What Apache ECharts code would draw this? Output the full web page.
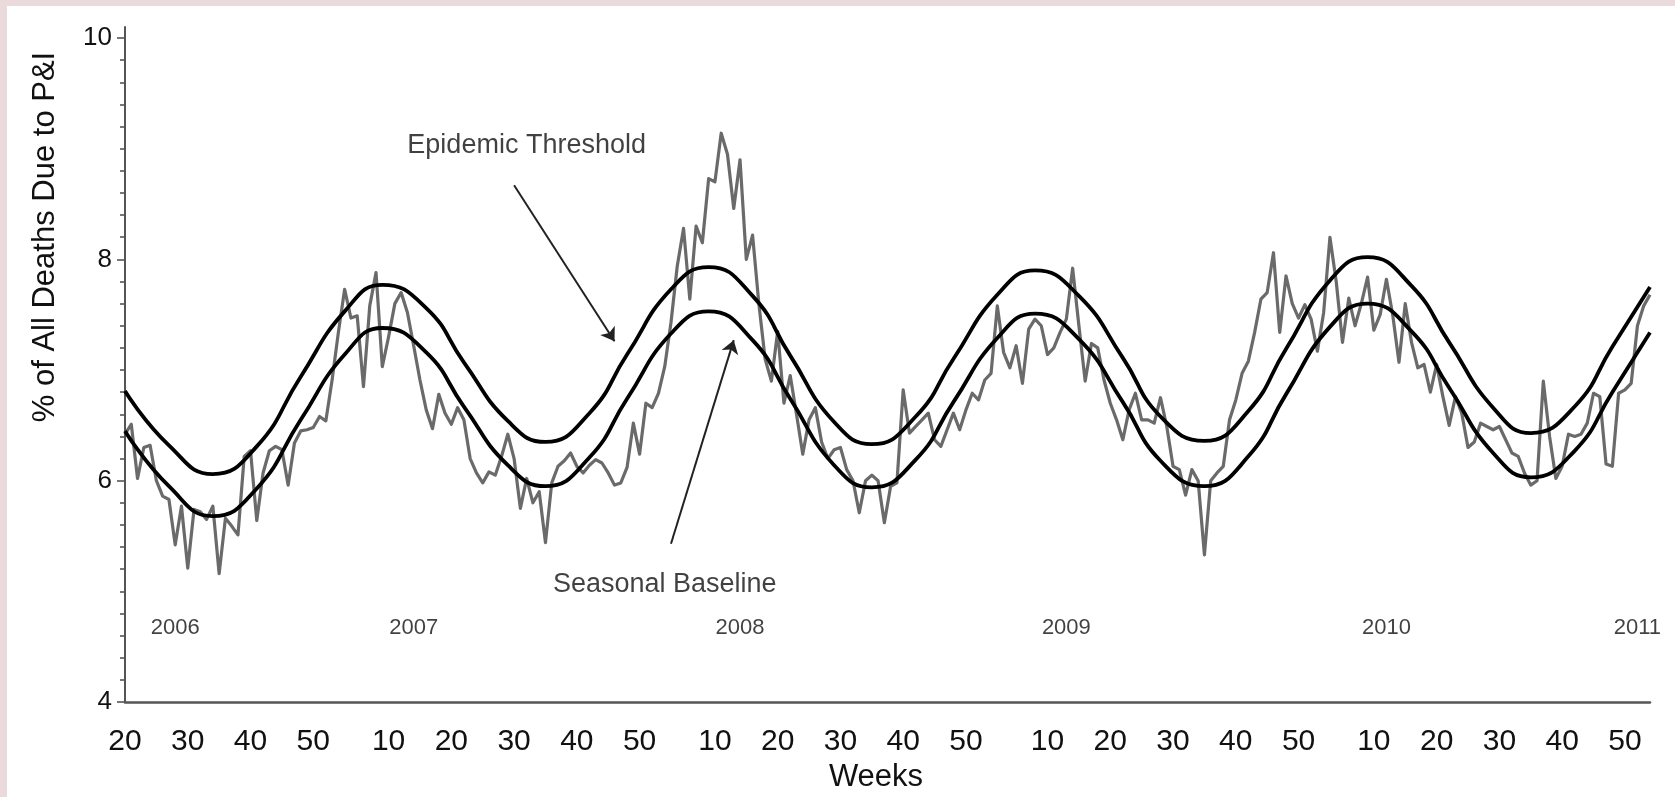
<!DOCTYPE html>
<html>
<head>
<meta charset="utf-8">
<script src="https://cdn.jsdelivr.net/npm/echarts@6/dist/echarts.min.js"></script>
<style>
html,body{margin:0;padding:0;background:#fff;}
#c{width:1675px;height:797px;}
</style>
</head>
<body>
<div id="c"></div>
<script>
// ---- axis definition: [year, first week, last week] ----
const weekSpans = [[2006,20,52],[2007,1,52],[2008,1,53],[2009,1,52],[2010,1,52],[2011,1,2]];
const tickWeeks = [10,20,30,40,50];
const yTicks = [4,6,8,10];
const yMinorTicks = [4.2,4.4,4.6,4.8,5.0,5.2,5.4,5.6,5.8,6.2,6.4,6.6,6.8,7.0,7.2,7.4,7.6,7.8,8.2,8.4,8.6,8.8,9.0,9.2,9.4,9.6,9.8];

// ---- observed weekly % of deaths due to P&I (index 0 = 2006 week 20) ----
const observed = [
6.42,6.51,6.02,6.30,6.32,6.00,5.86,5.83,5.42,5.77,
5.21,5.74,5.72,5.65,5.77,5.16,5.66,5.59,5.51,6.22,
6.27,5.64,6.07,6.27,6.31,6.28,5.96,6.34,6.45,6.46,
6.48,6.58,6.54,6.91,7.34,7.73,7.47,7.49,6.85,7.58,
7.88,7.03,7.30,7.60,7.70,7.52,7.22,6.91,6.64,6.47,
6.78,6.61,6.51,6.66,6.55,6.20,6.07,5.98,6.08,6.05,
6.22,6.42,6.20,5.75,6.02,5.80,5.90,5.44,5.98,6.13,
6.18,6.25,6.13,6.07,6.14,6.19,6.16,6.07,5.96,5.98,
6.12,6.52,6.24,6.70,6.66,6.79,7.03,7.43,7.94,8.28,
7.64,8.30,8.15,8.73,8.70,9.14,8.95,8.46,8.90,8.00,
8.22,7.60,7.10,6.90,7.35,6.70,6.95,6.60,6.24,6.55,
6.66,6.35,6.20,6.28,6.30,6.10,6.00,5.71,6.00,6.05,
6.00,5.62,5.95,5.98,6.82,6.43,6.49,6.55,6.61,6.37,
6.31,6.46,6.61,6.46,6.64,6.79,6.73,6.91,6.97,7.58,
7.16,7.02,7.22,6.88,7.37,7.46,7.40,7.14,7.20,7.34,
7.46,7.92,7.40,6.90,7.24,7.20,6.91,6.70,6.55,6.37,
6.64,6.79,6.55,6.55,6.52,6.75,6.49,6.13,6.10,5.87,
6.10,6.00,5.33,6.00,6.07,6.13,6.55,6.73,6.97,7.08,
7.34,7.64,7.70,8.06,7.34,7.85,7.60,7.47,7.59,7.46,
7.17,7.52,8.20,7.80,7.25,7.65,7.40,7.60,7.84,7.36,
7.50,7.82,7.50,7.07,7.60,7.25,7.02,7.05,6.80,7.05,
6.76,6.50,6.76,6.61,6.30,6.35,6.52,6.49,6.46,6.49,
6.37,6.25,6.22,6.07,5.96,6.00,6.90,6.40,6.02,6.13,
6.42,6.40,6.42,6.52,6.79,6.76,6.15,6.13,6.79,6.82,
6.88,7.40,7.58,7.68
];

// ---- seasonal baseline, read at [week index, value] ----
const baselineKnots = [
[0,6.45],[7,5.95],[14,5.68],[21,5.93],[28,6.55],[35,7.14],[41,7.38],[48,7.16],[54,6.67],[61,6.14],
[67,5.95],[74,6.21],[80,6.74],[87,7.33],[93,7.53],[100,7.27],[106,6.74],[113,6.14],[119,5.94],[126,6.19],
[132,6.71],[139,7.29],[145,7.51],[152,7.28],[159,6.71],[165,6.18],[172,5.95],[179,6.22],[185,6.78],[192,7.39],
[198,7.60],[205,7.35],[211,6.84],[218,6.25],[224,6.03],[231,6.27],[237,6.80],[243,7.34]
];

// ---- epidemic threshold, read at [week index, value] ----
const thresholdKnots = [
[0,6.81],[7,6.32],[14,6.06],[21,6.31],[28,6.94],[35,7.53],[41,7.77],[48,7.56],[54,7.07],[61,6.54],
[67,6.35],[74,6.61],[80,7.14],[87,7.73],[93,7.93],[100,7.67],[106,7.13],[113,6.53],[119,6.33],[126,6.58],
[132,7.10],[139,7.68],[145,7.90],[152,7.67],[159,7.11],[165,6.58],[172,6.36],[179,6.63],[185,7.19],[192,7.81],
[198,8.02],[205,7.76],[211,7.25],[218,6.66],[224,6.43],[231,6.67],[237,7.21],[243,7.75]
];

// ---- annotation texts and anchors (data coordinates) ----
const yearNames = ['2006','2007','2008','2009','2010','2011'];
const yearAt = [8,46,98,150,201,241];
const yearLevel = 4.67;
const noteNames = ['Epidemic Threshold','Seasonal Baseline'];
const noteAt = [[64,9.03],[86,5.06]];
const arrowFrom = [[62,8.67],[87,5.43]];
const arrowTo = [[78,7.26],[97,7.27]];

// ---- build category list ----
const categories = [];
weekSpans.forEach(function(s){ for (let w = s[1]; w <= s[2]; w++) categories.push(s[0] + '-W' + w); });
const weekOf = function(c){ return +String(c).split('-W')[1]; };

const FONT = '"Liberation Sans", Arial, Helvetica, sans-serif';
const AX = '#555555';

const chart = echarts.init(document.getElementById('c'), null, {renderer:'canvas', width:1675, height:797});
chart.setOption({
  animation:false,
  backgroundColor:'#ffffff',
  grid:{left:125, top:27, width:1525, height:675, containLabel:false},
  xAxis:{
    type:'category', data:categories, boundaryGap:false,
    axisLine:{show:true, onZero:false, lineStyle:{color:AX, width:2.5}},
    axisTick:{show:false},
    axisLabel:{
      interval:function(idx, val){ return tickWeeks.indexOf(weekOf(val)) >= 0; },
      formatter:function(val){ return String(weekOf(val)); },
      fontSize:30, fontFamily:FONT, color:'#111', margin:25
    },
    splitLine:{show:false}
  },
  yAxis:[
    {
      type:'value', min:4, max:10.1, position:'left',
      axisLine:{show:true, lineStyle:{color:AX, width:2}},
      axisTick:{show:true, length:8, customValues:yTicks, lineStyle:{color:AX, width:1.6}},
      axisLabel:{customValues:yTicks, fontSize:26, fontFamily:FONT, color:'#111', margin:13},
      splitLine:{show:false}
    },
    {
      type:'value', min:4, max:10.1, position:'left',
      axisLine:{show:false},
      axisTick:{show:true, length:5, customValues:yMinorTicks, lineStyle:{color:AX, width:1.6}},
      axisLabel:{show:false},
      splitLine:{show:false}
    }
  ],
  graphic:[
    {type:'rect', silent:true, shape:{x:0, y:0, width:1675, height:6}, style:{fill:'#ebdadb'}},
    {type:'rect', silent:true, shape:{x:0, y:0, width:7, height:797}, style:{fill:'#ebdadb'}},
    {type:'text', silent:true, x:45, y:237, rotation:Math.PI/2,
      style:{text:'% of All Deaths Due to P&I', fontSize:31, fontFamily:FONT, fill:'#111', align:'center', verticalAlign:'middle', textAlign:'center', textVerticalAlign:'middle'}},
    {type:'text', silent:true, x:876, y:777,
      style:{text:'Weeks', fontSize:31, fontFamily:FONT, fill:'#111', align:'center', verticalAlign:'middle', textAlign:'center', textVerticalAlign:'middle'}}
  ],
  series:[
    {
      name:'Observed', type:'line', data:observed, yAxisIndex:0,
      symbol:'none', showSymbol:false, silent:true,
      lineStyle:{color:'#6a6a6a', width:3.2, join:'round'}, z:2
    },
    {
      name:'Seasonal Baseline', type:'line', data:baselineKnots, yAxisIndex:0,
      smooth:0.5, symbol:'none', showSymbol:false, silent:true,
      lineStyle:{color:'#000000', width:3.8}, z:3
    },
    {
      name:'Epidemic Threshold', type:'line', data:thresholdKnots, yAxisIndex:0,
      smooth:0.5, symbol:'none', showSymbol:false, silent:true,
      lineStyle:{color:'#000000', width:3.8}, z:3
    },
    {
      name:'notes', type:'scatter', yAxisIndex:0, silent:true, symbolSize:0,
      data:noteNames.map(function(n, k){ return {name:n, value:noteAt[k]}; }),
      label:{show:true, position:'inside', formatter:'{b}', fontSize:27, fontFamily:FONT, color:'#111'},
      markLine:{
        silent:true, symbol:['none','arrow'], symbolSize:13,
        label:{show:false},
        lineStyle:{color:'#222', width:2, type:'solid'},
        data:arrowFrom.map(function(a, k){ return [{coord:a}, {coord:arrowTo[k]}]; })
      },
      z:4
    },
    {
      name:'years', type:'scatter', yAxisIndex:0, silent:true, symbolSize:0,
      data:yearNames.map(function(n, k){ return {name:n, value:[yearAt[k], yearLevel]}; }),
      label:{show:true, position:'inside', formatter:'{b}', fontSize:22, fontFamily:FONT, color:'#111'},
      z:4
    }
  ]
});
</script>
</body>
</html>
